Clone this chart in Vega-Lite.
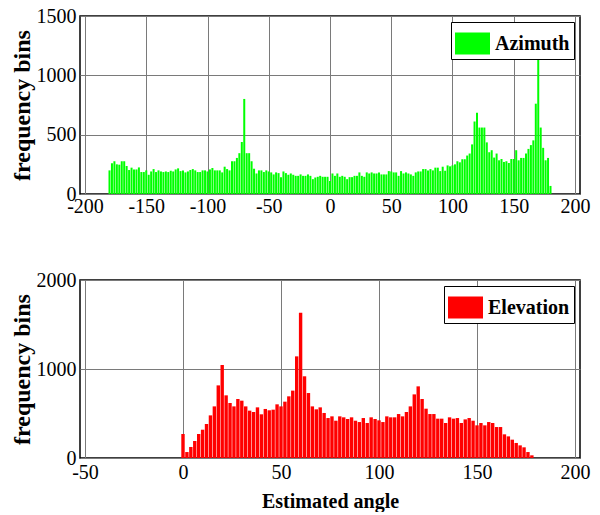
{
  "$schema": "https://vega.github.io/schema/vega-lite/v6.json",
  "padding": {"left": 9, "top": 5, "right": 5, "bottom": 0},
  "background": "white",
  "spacing": 52,
  "datasets": {
    "azimuth": [
      {"angle": -180, "count": 199}, {"angle": -178, "count": 259}, {"angle": -176, "count": 276}, {"angle": -174, "count": 250},
      {"angle": -172, "count": 247}, {"angle": -170, "count": 276}, {"angle": -168, "count": 276}, {"angle": -166, "count": 236},
      {"angle": -164, "count": 202}, {"angle": -162, "count": 222}, {"angle": -160, "count": 207}, {"angle": -158, "count": 207},
      {"angle": -156, "count": 224}, {"angle": -154, "count": 185}, {"angle": -152, "count": 185}, {"angle": -150, "count": 199},
      {"angle": -148, "count": 162}, {"angle": -146, "count": 190}, {"angle": -144, "count": 210}, {"angle": -142, "count": 185},
      {"angle": -140, "count": 199}, {"angle": -138, "count": 190}, {"angle": -136, "count": 185}, {"angle": -134, "count": 190},
      {"angle": -132, "count": 185}, {"angle": -130, "count": 196}, {"angle": -128, "count": 190}, {"angle": -126, "count": 207},
      {"angle": -124, "count": 216}, {"angle": -122, "count": 193}, {"angle": -120, "count": 199}, {"angle": -118, "count": 182},
      {"angle": -116, "count": 190}, {"angle": -114, "count": 202}, {"angle": -112, "count": 210}, {"angle": -110, "count": 199},
      {"angle": -108, "count": 185}, {"angle": -106, "count": 185}, {"angle": -104, "count": 199}, {"angle": -102, "count": 199},
      {"angle": -100, "count": 190}, {"angle": -98, "count": 207}, {"angle": -96, "count": 219}, {"angle": -94, "count": 199},
      {"angle": -92, "count": 199}, {"angle": -90, "count": 199}, {"angle": -88, "count": 182}, {"angle": -86, "count": 230},
      {"angle": -84, "count": 210}, {"angle": -82, "count": 199}, {"angle": -80, "count": 276}, {"angle": -78, "count": 276},
      {"angle": -76, "count": 304}, {"angle": -74, "count": 344}, {"angle": -72, "count": 438}, {"angle": -70, "count": 801},
      {"angle": -68, "count": 344}, {"angle": -66, "count": 344}, {"angle": -64, "count": 276}, {"angle": -62, "count": 213},
      {"angle": -60, "count": 173}, {"angle": -58, "count": 199}, {"angle": -56, "count": 199}, {"angle": -54, "count": 185},
      {"angle": -52, "count": 199}, {"angle": -50, "count": 190}, {"angle": -48, "count": 182}, {"angle": -46, "count": 165},
      {"angle": -44, "count": 182}, {"angle": -42, "count": 176}, {"angle": -40, "count": 142}, {"angle": -38, "count": 190},
      {"angle": -36, "count": 176}, {"angle": -34, "count": 162}, {"angle": -32, "count": 173}, {"angle": -30, "count": 162},
      {"angle": -28, "count": 153}, {"angle": -26, "count": 153}, {"angle": -24, "count": 165}, {"angle": -22, "count": 153},
      {"angle": -20, "count": 153}, {"angle": -18, "count": 165}, {"angle": -16, "count": 153}, {"angle": -14, "count": 125},
      {"angle": -12, "count": 139}, {"angle": -10, "count": 145}, {"angle": -8, "count": 153}, {"angle": -6, "count": 145},
      {"angle": -4, "count": 145}, {"angle": -2, "count": 145}, {"angle": 0, "count": 110}, {"angle": 2, "count": 173},
      {"angle": 4, "count": 153}, {"angle": 6, "count": 173}, {"angle": 8, "count": 145}, {"angle": 10, "count": 153},
      {"angle": 12, "count": 145}, {"angle": 14, "count": 125}, {"angle": 16, "count": 142}, {"angle": 18, "count": 142},
      {"angle": 20, "count": 153}, {"angle": 22, "count": 153}, {"angle": 24, "count": 182}, {"angle": 26, "count": 153},
      {"angle": 28, "count": 145}, {"angle": 30, "count": 182}, {"angle": 32, "count": 173}, {"angle": 34, "count": 182},
      {"angle": 36, "count": 173}, {"angle": 38, "count": 173}, {"angle": 40, "count": 182}, {"angle": 42, "count": 165},
      {"angle": 44, "count": 165}, {"angle": 46, "count": 165}, {"angle": 48, "count": 193}, {"angle": 50, "count": 190},
      {"angle": 52, "count": 182}, {"angle": 54, "count": 182}, {"angle": 56, "count": 153}, {"angle": 58, "count": 193},
      {"angle": 60, "count": 173}, {"angle": 62, "count": 182}, {"angle": 64, "count": 173}, {"angle": 66, "count": 165},
      {"angle": 68, "count": 153}, {"angle": 70, "count": 182}, {"angle": 72, "count": 190}, {"angle": 74, "count": 190},
      {"angle": 76, "count": 210}, {"angle": 78, "count": 210}, {"angle": 80, "count": 199}, {"angle": 82, "count": 210},
      {"angle": 84, "count": 199}, {"angle": 86, "count": 222}, {"angle": 88, "count": 222}, {"angle": 90, "count": 193},
      {"angle": 92, "count": 230}, {"angle": 94, "count": 196}, {"angle": 96, "count": 241}, {"angle": 98, "count": 233},
      {"angle": 100, "count": 241}, {"angle": 102, "count": 250}, {"angle": 104, "count": 276}, {"angle": 106, "count": 267},
      {"angle": 108, "count": 293}, {"angle": 110, "count": 293}, {"angle": 112, "count": 324}, {"angle": 114, "count": 341},
      {"angle": 116, "count": 418}, {"angle": 118, "count": 611}, {"angle": 120, "count": 685}, {"angle": 122, "count": 560},
      {"angle": 124, "count": 560}, {"angle": 126, "count": 560}, {"angle": 128, "count": 435}, {"angle": 130, "count": 352},
      {"angle": 132, "count": 369}, {"angle": 134, "count": 307}, {"angle": 136, "count": 341}, {"angle": 138, "count": 284},
      {"angle": 140, "count": 295}, {"angle": 142, "count": 270}, {"angle": 144, "count": 276}, {"angle": 146, "count": 261},
      {"angle": 148, "count": 295}, {"angle": 150, "count": 295}, {"angle": 152, "count": 369}, {"angle": 154, "count": 284},
      {"angle": 156, "count": 304}, {"angle": 158, "count": 304}, {"angle": 160, "count": 341}, {"angle": 162, "count": 380},
      {"angle": 164, "count": 412}, {"angle": 166, "count": 452}, {"angle": 168, "count": 761}, {"angle": 170, "count": 1162},
      {"angle": 172, "count": 560}, {"angle": 174, "count": 389}, {"angle": 176, "count": 284}, {"angle": 178, "count": 304},
      {"angle": 180, "count": 68}
    ],
    "elevation": [
      {"angle": 0, "count": 270}, {"angle": 2, "count": 67}, {"angle": 4, "count": 124}, {"angle": 6, "count": 191},
      {"angle": 8, "count": 270}, {"angle": 10, "count": 318}, {"angle": 12, "count": 382}, {"angle": 14, "count": 479},
      {"angle": 16, "count": 580}, {"angle": 18, "count": 816}, {"angle": 20, "count": 1045}, {"angle": 22, "count": 704},
      {"angle": 24, "count": 618}, {"angle": 26, "count": 580}, {"angle": 28, "count": 663}, {"angle": 30, "count": 644},
      {"angle": 32, "count": 580}, {"angle": 34, "count": 532}, {"angle": 36, "count": 517}, {"angle": 38, "count": 569},
      {"angle": 40, "count": 491}, {"angle": 42, "count": 551}, {"angle": 44, "count": 536}, {"angle": 46, "count": 543},
      {"angle": 48, "count": 603}, {"angle": 50, "count": 580}, {"angle": 52, "count": 633}, {"angle": 54, "count": 693},
      {"angle": 56, "count": 757}, {"angle": 58, "count": 1142}, {"angle": 60, "count": 1633}, {"angle": 62, "count": 918},
      {"angle": 64, "count": 730}, {"angle": 66, "count": 580}, {"angle": 68, "count": 547}, {"angle": 70, "count": 569},
      {"angle": 72, "count": 506}, {"angle": 74, "count": 449}, {"angle": 76, "count": 468}, {"angle": 78, "count": 419},
      {"angle": 80, "count": 468}, {"angle": 82, "count": 457}, {"angle": 84, "count": 438}, {"angle": 86, "count": 457},
      {"angle": 88, "count": 419}, {"angle": 90, "count": 404}, {"angle": 92, "count": 449}, {"angle": 94, "count": 393},
      {"angle": 96, "count": 457}, {"angle": 98, "count": 438}, {"angle": 100, "count": 423}, {"angle": 102, "count": 404},
      {"angle": 104, "count": 468}, {"angle": 106, "count": 457}, {"angle": 108, "count": 457}, {"angle": 110, "count": 494},
      {"angle": 112, "count": 468}, {"angle": 114, "count": 517}, {"angle": 116, "count": 580}, {"angle": 118, "count": 715},
      {"angle": 120, "count": 805}, {"angle": 122, "count": 663}, {"angle": 124, "count": 554}, {"angle": 126, "count": 494},
      {"angle": 128, "count": 494}, {"angle": 130, "count": 442}, {"angle": 132, "count": 442}, {"angle": 134, "count": 393},
      {"angle": 136, "count": 457}, {"angle": 138, "count": 442}, {"angle": 140, "count": 449}, {"angle": 142, "count": 393},
      {"angle": 144, "count": 434}, {"angle": 146, "count": 449}, {"angle": 148, "count": 419}, {"angle": 150, "count": 367},
      {"angle": 152, "count": 393}, {"angle": 154, "count": 367}, {"angle": 156, "count": 404}, {"angle": 158, "count": 393},
      {"angle": 160, "count": 348}, {"angle": 162, "count": 348}, {"angle": 164, "count": 266}, {"angle": 166, "count": 243},
      {"angle": 168, "count": 206}, {"angle": 170, "count": 169}, {"angle": 172, "count": 142}, {"angle": 174, "count": 120},
      {"angle": 176, "count": 67}, {"angle": 178, "count": 30}
    ]
  },
  "config": {
    "view": {"stroke": "black", "strokeWidth": 1.5},
    "axis": {
      "labelFont": "Liberation Serif", "labelFontSize": 20, "labelColor": "black",
      "titleFont": "Liberation Serif", "titleFontWeight": "bold", "titleColor": "black",
      "grid": true, "gridColor": "#7a7a7a", "gridWidth": 1, "gridOpacity": 1,
      "ticks": false, "domain": false, "labelPadding": 4,
      "labelExpr": "'' + datum.value"
    },
    "legend": {
      "orient": "top-right", "offset": 6, "title": null,
      "symbolType": "M-1,-0.63L1,-0.63L1,0.63L-1,0.63Z", "symbolSize": 1225, "symbolStrokeWidth": 0,
      "labelFont": "Liberation Serif", "labelFontSize": 20, "labelFontWeight": "bold", "labelColor": "black",
      "labelOffset": 5, "fillColor": "white", "strokeColor": "black", "padding": 4
    }
  },
  "vconcat": [
    {
      "width": 500, "height": 178,
      "data": {"name": "azimuth"},
      "mark": {"type": "bar", "orient": "vertical", "width": 2},
      "encoding": {
        "x": {"field": "angle", "type": "quantitative",
              "scale": {"domain": [-200, 200], "nice": false, "zero": false},
              "axis": {"values": [-200, -150, -100, -50, 0, 50, 100, 150, 200], "title": null, "labelPadding": 2}},
        "y": {"field": "count", "type": "quantitative",
              "scale": {"domain": [0, 1500], "nice": false},
              "axis": {"values": [0, 500, 1000, 1500], "title": "frequency bins", "titleFontSize": 24, "titlePadding": 2}},
        "color": {"datum": "Azimuth", "type": "nominal", "scale": {"range": ["#00ff00"]}}
      }
    },
    {
      "width": 500, "height": 178,
      "data": {"name": "elevation"},
      "mark": {"type": "bar", "orient": "vertical", "width": 3.4},
      "encoding": {
        "x": {"field": "angle", "type": "quantitative",
              "scale": {"domain": [-50, 200], "nice": false, "zero": false},
              "axis": {"values": [-50, 0, 50, 100, 150, 200], "title": "Estimated angle", "titleFontSize": 20, "titlePadding": 9}},
        "y": {"field": "count", "type": "quantitative",
              "scale": {"domain": [0, 2000], "nice": false},
              "axis": {"values": [0, 1000, 2000], "title": "frequency bins", "titleFontSize": 24, "titlePadding": 2}},
        "color": {"datum": "Elevation", "type": "nominal", "scale": {"range": ["#ff0000"]}}
      }
    }
  ],
  "resolve": {"scale": {"color": "independent"}, "legend": {"color": "independent"}}
}
